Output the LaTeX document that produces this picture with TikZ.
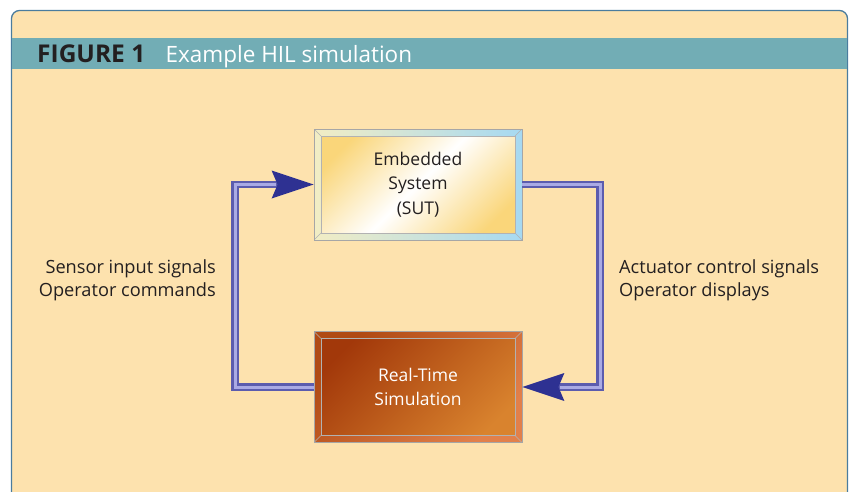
\documentclass[tikz,border=0pt]{standalone}
\usepackage{fontspec}
\setmainfont{Open Sans}
\usetikzlibrary{arrows.meta,positioning,calc}
\definecolor{panelfill}{HTML}{FDE2AE}
\definecolor{panelline}{HTML}{4A7C9E}
\definecolor{bandfill}{HTML}{72ADB5}
\definecolor{pipedark}{HTML}{5C5CAE}
\definecolor{pipelight}{HTML}{AAAAE4}
\definecolor{tipblue}{HTML}{2E3192}
\definecolor{inktext}{HTML}{231F20}
\definecolor{sutyellow}{HTML}{FAD67A}
\definecolor{sutframel}{HTML}{F2EDC4}
\definecolor{sutframer}{HTML}{A6D9F2}
\definecolor{simdark}{HTML}{A2380A}
\definecolor{simlight}{HTML}{D9832E}
\definecolor{simframel}{HTML}{B04A14}
\definecolor{simframer}{HTML}{E2804A}
\tikzset{
  hilbox/.style={draw=gray!70, line width=0.8pt, minimum width=208pt, minimum height=111pt,
    inner sep=0pt, align=center, font=\fontsize{17.5}{24.5}\selectfont},
  sutbox/.style={hilbox, text=inktext, left color=sutframel, right color=sutframer,
    path picture={
      \shade[left color=sutyellow, right color=sutyellow, middle color=white, shading angle=45]
        ($(path picture bounding box.south west)+(7pt,7pt)$) rectangle
        ($(path picture bounding box.north east)+(-7pt,-7pt)$);
      \draw[gray!60, line width=0.6pt]
        ($(path picture bounding box.south west)+(7pt,7pt)$) rectangle
        ($(path picture bounding box.north east)+(-7pt,-7pt)$);
      \foreach \c/\dx/\dy in {south west/7/7, south east/-7/7, north west/7/-7, north east/-7/-7}
        \draw[gray!60, line width=0.6pt] (path picture bounding box.\c) -- ++(\dx pt,\dy pt);
    }},
  simbox/.style={hilbox, text=white, left color=simframel, right color=simframer, shading angle=45,
    path picture={
      \shade[left color=simdark, right color=simlight, shading angle=45]
        ($(path picture bounding box.south west)+(7pt,7pt)$) rectangle
        ($(path picture bounding box.north east)+(-7pt,-7pt)$);
      \draw[gray!60, line width=0.6pt]
        ($(path picture bounding box.south west)+(7pt,7pt)$) rectangle
        ($(path picture bounding box.north east)+(-7pt,-7pt)$);
      \foreach \c/\dx/\dy in {south west/7/7, south east/-7/7, north west/7/-7, north east/-7/-7}
        \draw[gray!60, line width=0.6pt] (path picture bounding box.\c) -- ++(\dx pt,\dy pt);
    }},
  hilpipe/.style={draw=pipedark, line width=7.5pt,
    -{Stealth[length=42pt, width=28pt, inset=6pt, line width=0pt, color=tipblue, fill=tipblue]},
    postaction={draw=pipelight, line width=3pt, -, shorten >=38pt}},
  siglabel/.style={font=\fontsize{18.2}{23}\selectfont, text=inktext, inner sep=0pt}
}

\begin{document}
\begin{tikzpicture}[x=1pt, y=-1pt]
  \useasboundingbox (0,0) rectangle (850,491);
  % panel and title band
  \draw[panelline, fill=panelfill, line width=1.3pt, rounded corners=8pt]
    (11.5,500) -- (11.5,10.5) -- (847.5,10.5) -- (847.5,500);
  \fill[bandfill] (12.2,38) rectangle (846.8,69);
  \node[anchor=west, inner sep=0pt, text=inktext, font=\fontsize{24.5}{26}\selectfont\bfseries] (fig) at (37,53.5) {FIGURE 1};
  \node[base right=20pt of fig, inner sep=0pt, text=white, font=\fontsize{22.5}{26}\selectfont] (cap) {Example HIL simulation};

  % blocks
  \node[sutbox] (emb) at (418,184.5) {Embedded\\System\\(SUT)};
  \node[simbox] (rt) at (418,387) {Real-Time\\Simulation};
  \coordinate (lturn) at (235,0);
  \coordinate (rturn) at (600,0);

  % signal loops
  \draw[hilpipe] (rt.west) -- (rt.west -| lturn) -- (emb.west -| lturn) -- (emb.west);
  \draw[hilpipe] (emb.east) -- (emb.east -| rturn) -- (rt.east -| rturn) -- (rt.east);

  \node[siglabel, anchor=east, align=right] (sensor) at (216,280) {Sensor input signals\\Operator commands};
  \node[siglabel, anchor=west, align=left] (actuator) at (619,280) {Actuator control signals\\Operator displays};
\end{tikzpicture}
\end{document}
